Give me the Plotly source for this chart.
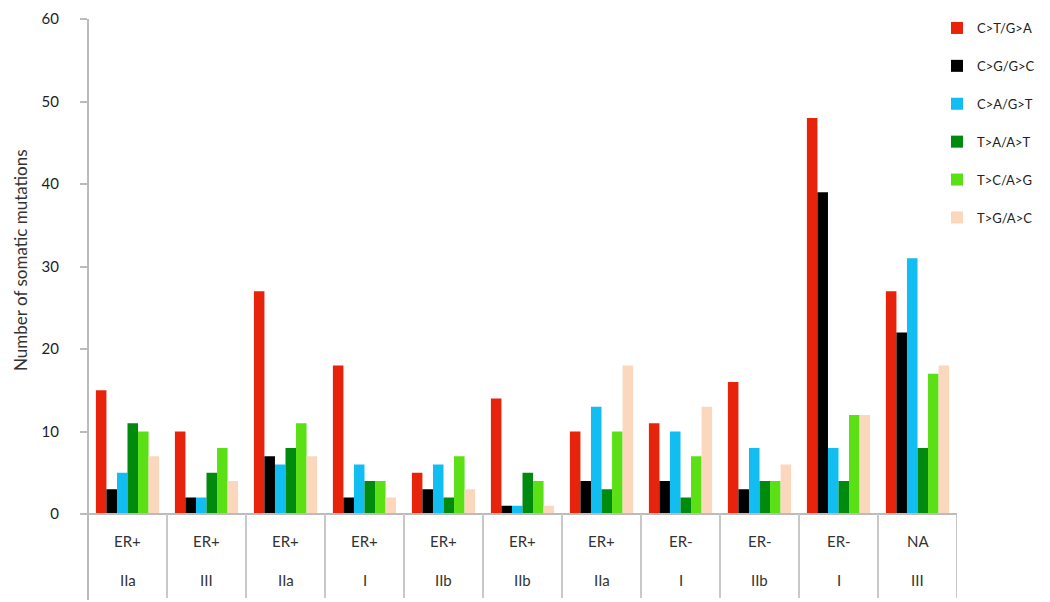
import plotly.graph_objects as go

# ---- data ----
er_status = ["ER+", "ER+", "ER+", "ER+", "ER+", "ER+", "ER+", "ER-", "ER-", "ER-", "NA"]
stage = ["IIa", "III", "IIa", "I", "IIb", "IIb", "IIa", "I", "IIb", "I", "III"]
series_names = ["C>T/G>A", "C>G/G>C", "C>A/G>T", "T>A/A>T", "T>C/A>G", "T>G/A>C"]
ct_ga = [15, 10, 27, 18, 5, 14, 10, 11, 16, 48, 27]
cg_gc = [3, 2, 7, 2, 3, 1, 4, 4, 3, 39, 22]
ca_gt = [5, 2, 6, 6, 6, 1, 13, 10, 8, 8, 31]
ta_at = [11, 5, 8, 4, 2, 5, 3, 2, 4, 4, 8]
tc_ag = [10, 8, 11, 4, 7, 4, 10, 7, 4, 12, 17]
tg_ac = [7, 4, 7, 2, 3, 1, 18, 13, 6, 12, 18]
y_ticks = [0, 10, 20, 30, 40, 50, 60]

series_values = [ct_ga, cg_gc, ca_gt, ta_at, tc_ag, tg_ac]
colors = ["#E8230C", "#000000", "#12BDF2", "#008A0E", "#5BE016", "#FBD7BD"]

FONT = "Lato, Open Sans, sans-serif"
W, H = 1050, 602
OFF = 8                       # page body margin
PL, PT, PW, PB = 88, 19, 869, 514   # target plot area (screen px)
PH = PB - PT
L, T = PL - OFF, PT - OFF
R = W - L - PW
B = H - T - PH
x_idx = list(range(len(er_status)))


def py(px):
    """screen pixel y -> paper y"""
    return (PB - px) / PH


def pxx(px):
    """screen pixel x -> paper x"""
    return (px - PL) / PW


fig = go.Figure()
for name, vals, col in zip(series_names, series_values, colors):
    fig.add_trace(go.Bar(
        x=x_idx, y=vals, name=name, marker=dict(color=col, line=dict(width=0)),
        legendgroup=name,
    ))

shapes = []
shapes.append(dict(type="line", xref="paper", yref="paper", x0=0, x1=0,
                   y0=py(600), y1=1, line=dict(color="#BBBBBB", width=2)))
shapes.append(dict(type="line", xref="paper", yref="paper", x0=0, x1=1,
                   y0=0, y1=0, line=dict(color="#BBBBBB", width=2)))
for i in range(1, len(er_status) + 1):
    shapes.append(dict(type="line", xref="x", yref="paper", x0=i - 0.5, x1=i - 0.5,
                       y0=py(598), y1=0, line=dict(color="#C8C8C8", width=2)))

annotations = []
for i in x_idx:
    annotations.append(dict(x=i, y=py(541), xref="x", yref="paper", text=er_status[i],
                            xanchor="center", yanchor="middle", showarrow=False,
                            font=dict(size=15, color="#333333", family=FONT)))
    annotations.append(dict(x=i, y=py(580), xref="x", yref="paper", text=stage[i],
                            xanchor="center", yanchor="middle", showarrow=False,
                            font=dict(size=15, color="#333333", family=FONT)))
annotations.append(dict(x=pxx(20), y=py(260), xref="paper", yref="paper",
                        xanchor="center", yanchor="middle",
                        text="Number of somatic mutations", textangle=-90, showarrow=False,
                        font=dict(size=17, color="#333333", family=FONT)))

fig.update_layout(
    width=W, height=H,
    margin=dict(l=L, r=R, t=T, b=B, pad=0, autoexpand=False),
    paper_bgcolor="white", plot_bgcolor="white",
    barmode="group", bargap=0.2, bargroupgap=0,
    font=dict(family=FONT, color="#333333"),
    xaxis=dict(range=[-0.5, len(er_status) - 0.5], showticklabels=False, showgrid=False,
               zeroline=False, showline=False, ticks="", automargin=False),
    yaxis=dict(range=[0, 60], tickvals=y_ticks, showgrid=False, zeroline=False,
               showline=False, ticks="outside", ticklen=7, tickcolor="#BBBBBB", tickwidth=2,
               tickfont=dict(size=15, color="#1E1E1E", family=FONT), ticklabelstandoff=18,
               ticklabeloverflow="allow", automargin=False),
    legend=dict(x=pxx(937), xanchor="left", y=py(13), yanchor="top",
                font=dict(size=13, color="#222222", family=FONT), tracegroupgap=18,
                itemwidth=30, bgcolor="rgba(0,0,0,0)"),
    shapes=shapes, annotations=annotations,
)

fig.write_html("out.html")
